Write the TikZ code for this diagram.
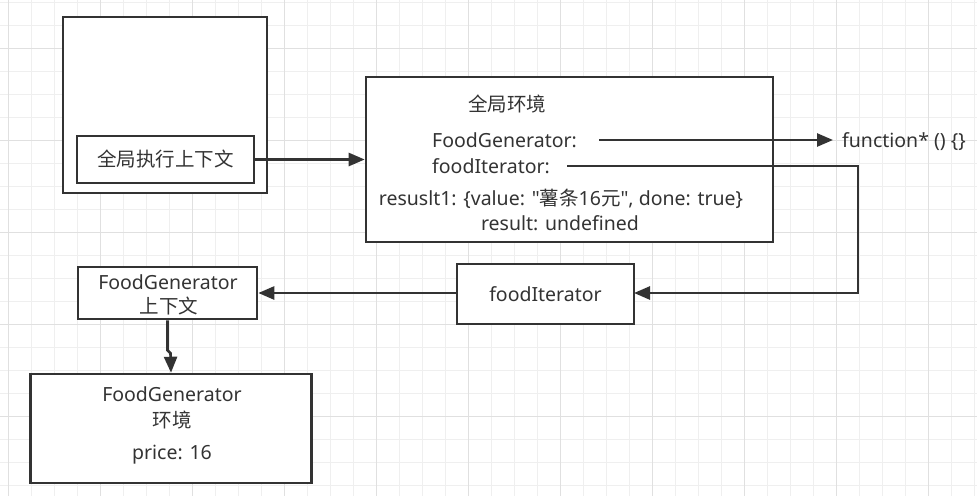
\documentclass[tikz,border=0pt]{standalone}
\usepackage{fontspec}
\setmainfont{Noto Sans}[Ligatures=TeXOff]
\newfontfamily\cjk{Noto Sans CJK SC}
\usetikzlibrary{arrows.meta}
\definecolor{ink}{HTML}{333333}
\definecolor{gridminor}{HTML}{EFEFEF}
\definecolor{gridmajor}{HTML}{E0E0E0}
\tikzset{
  box/.style={draw=ink, line width=2.6pt, fill=white, inner sep=0pt, text=ink},
  lbl/.style={inner sep=0pt, text=ink},
  arr/.style={draw=ink, line width=2.6pt, -{Triangle[length=16pt,width=13pt]}},
  minorgrid/.style={draw=gridminor, line width=0.9pt},
  majorgrid/.style={draw=gridmajor, line width=1pt}
}
\begin{document}
\begin{tikzpicture}[x=1pt,y=-1pt, font=\fontsize{19.5}{23}\selectfont]
\useasboundingbox (0,0) rectangle (977,496);
\fill[white] (0,0) rectangle (977,496);
% grid
\foreach \i in {0,...,42} \draw[minorgrid] ({8+23*\i},0) -- ({8+23*\i},496);
\foreach \j in {0,...,21} \draw[minorgrid] (0,{2+23*\j}) -- (977,{2+23*\j});
\foreach \i in {0,...,10} \draw[majorgrid] ({8+92*\i},0) -- ({8+92*\i},496);
\foreach \j in {0,...,4} \draw[majorgrid] (0,{48+92*\j}) -- (977,{48+92*\j});

% boxes
\node[box, minimum width=204pt, minimum height=176pt] (outer) at (165,105) {};
\node[box, minimum width=177pt, minimum height=47pt] (gec) at (165.5,159.5) {\cjk 全局执行上下文};
\node[box, minimum width=407pt, minimum height=165pt] (genv) at (569.5,159.5) {};
\node[box, minimum width=179pt, minimum height=52pt] (fgctx) at (167.5,293) {};
\node[box, minimum width=177pt, minimum height=60pt] (fiter) at (545.5,294) {foodIterator};
\node[box, minimum width=281pt, minimum height=109pt] (fgenv) at (171,428.5) {};

% texts in FoodGenerator context
\node[lbl] (fgc1) at (168,282) {FoodGenerator};
\node[lbl] (fgc2) at (169,306) {\cjk 上下文};

% texts in global env
\node[lbl] (genvt) at (507,104) {\cjk 全局环境};
\node[lbl, anchor=west] (fgl) at (432,140) {FoodGenerator:};
\node[lbl, anchor=west] (fil) at (432,166) {foodIterator:};
\node[lbl] (r1) at (561,199) {resuslt1: \{value: "{\cjk 薯条}16{\cjk 元}", done: true\}};
\node[lbl] (r2) at (560,223) {result: undefined};
\node[lbl, anchor=west] (fn) at (842,142) {function* () \{\}};

% texts in FoodGenerator env
\node[lbl] (fge1) at (172,394) {FoodGenerator};
\node[lbl] (fge2) at (172,420) {\cjk 环境};
\node[lbl] (fge3) at (172,455) {price: 16};

% connectors
\coordinate (fgs) at (599,140);
\coordinate (fnin) at (833,140);
\coordinate (fis) at (567,166);
\coordinate (turn) at (858,166);
\coordinate (fitin) at (634,293);
\draw[arr] (gec.east) -- (genv.west);
\draw[arr] (fgs) -- (fnin);
\draw[arr] (fis) -- (turn) |- (fitin);
\draw[arr] (fiter.west |- fgctx.east) -- (fgctx.east);
\draw[arr] (fgctx.south) -- ++(0,30) -- ++(3,3) -- (fgenv.north);
\end{tikzpicture}
\end{document}
